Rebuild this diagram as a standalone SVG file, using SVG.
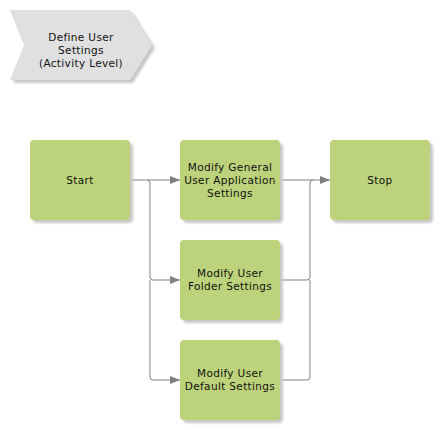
<svg xmlns="http://www.w3.org/2000/svg" width="440" height="430" viewBox="0 0 440 430">
<style>
.box{fill:#bdd37b;}
.sh{fill:#c8c8c8;}
.t{font-family:"DejaVu Sans",Verdana,sans-serif;font-size:10.5px;letter-spacing:0.35px;fill:#111111;text-anchor:middle;}
.c{fill:none;stroke:#808080;stroke-width:1;}
</style>
<defs>
<filter id="blur" x="-10%" y="-10%" width="130%" height="130%"><feGaussianBlur stdDeviation="1.2"/></filter>
<marker id="ah" markerWidth="10" markerHeight="8" refX="10" refY="4" orient="auto" markerUnits="userSpaceOnUse">
<path d="M0,0 L10,4 L0,8 Z" fill="#808080"/>
</marker>
</defs>
<rect width="440" height="430" fill="#ffffff"/>
<g id="phase">
<polygon points="13,13 133,13 155,48 133,83 13,83 27,48" class="sh" filter="url(#blur)"/>
<polygon points="10,10 130,10 152,45 130,80 10,80 24,45" fill="#e0e0e0"/>
<text class="t" x="81" y="41">Define User</text>
<text class="t" x="81" y="54">Settings</text>
<text class="t" x="81" y="67">(Activity Level)</text>
</g>
<g id="connectors">
<path class="c" d="M130,180 H180" marker-end="url(#ah)"/>
<path class="c" d="M147,180 Q150,180 150,183 V277 Q150,280 153,280 H180" marker-end="url(#ah)"/>
<path class="c" d="M150,280 V377 Q150,380 153,380 H180" marker-end="url(#ah)"/>
<path class="c" d="M280,180 H330" marker-end="url(#ah)"/>
<path class="c" d="M280,280 H307 Q310,280 310,277 V183 Q310,180 313,180"/>
<path class="c" d="M280,380 H307 Q310,380 310,377 V280"/>
</g>
<g id="start">
<rect x="33" y="143" width="100" height="80" rx="4" class="sh" filter="url(#blur)"/>
<rect x="30" y="140" width="100" height="80" rx="4" class="box"/>
<text class="t" x="80" y="184">Start</text>
</g>
<g id="general">
<rect x="183" y="143" width="100" height="80" rx="4" class="sh" filter="url(#blur)"/>
<rect x="180" y="140" width="100" height="80" rx="4" class="box"/>
<text class="t" x="230" y="171">Modify General</text>
<text class="t" x="230" y="184">User Application</text>
<text class="t" x="230" y="197">Settings</text>
</g>
<g id="stop">
<rect x="333" y="143" width="100" height="80" rx="4" class="sh" filter="url(#blur)"/>
<rect x="330" y="140" width="100" height="80" rx="4" class="box"/>
<text class="t" x="380" y="184">Stop</text>
</g>
<g id="folder">
<rect x="183" y="243" width="100" height="80" rx="4" class="sh" filter="url(#blur)"/>
<rect x="180" y="240" width="100" height="80" rx="4" class="box"/>
<text class="t" x="230" y="277">Modify User</text>
<text class="t" x="230" y="290">Folder Settings</text>
</g>
<g id="default">
<rect x="183" y="343" width="100" height="80" rx="4" class="sh" filter="url(#blur)"/>
<rect x="180" y="340" width="100" height="80" rx="4" class="box"/>
<text class="t" x="230" y="377">Modify User</text>
<text class="t" x="230" y="390">Default Settings</text>
</g>
</svg>
